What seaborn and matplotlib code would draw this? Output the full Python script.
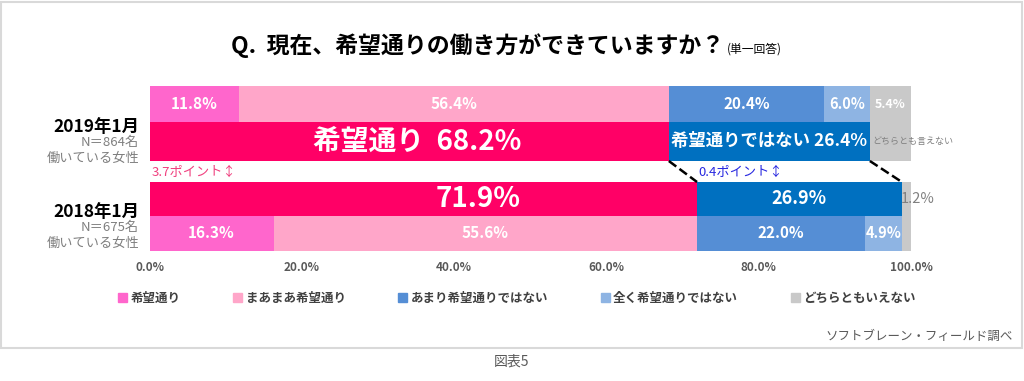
import numpy as np
import pandas as pd
import matplotlib
matplotlib.use("Agg")
import matplotlib.pyplot as plt
from matplotlib.patches import Patch, Rectangle
import seaborn as sns

# data
legend_labels = ["希望通り", "まあまあ希望通り", "あまり希望通りではない", "全く希望通りではない", "どちらともいえない"]
detail_2019 = [11.8, 56.4, 20.4, 6.0, 5.4]
detail_2018 = [16.3, 55.6, 22.0, 4.9, 1.2]
agg_labels = ["希望通り", "希望通りではない", "どちらとも言えない"]
agg_2019 = [68.2, 26.4, 5.4]
agg_2018 = [71.9, 26.9, 1.2]
diff_hope = "3.7ポイント↕"
diff_not = "0.4ポイント↕"
year_labels = ["2019年1月", "2018年1月"]
n_labels = ["N＝864名", "N＝675名"]
x_ticks = [0, 20, 40, 60, 80, 100]

detail_colors = ["#FF66CC", "#FFA6C9", "#558ED5", "#8EB4E3", "#C9C9C9"]
agg_colors = ["#FF0066", "#0070C0", "#C9C9C9"]

W, H = 1024, 381
sns.set_theme(style="white")
plt.rcParams["font.family"] = ["Noto Sans CJK JP", "DejaVu Sans"]

fig = plt.figure(figsize=(W / 100, H / 100), dpi=100)
# axes span the bars: x 149.5..911 px, y 86..251 px (from top)
ax = fig.add_axes([149.5 / W, 1 - 251 / H, (911 - 149.5) / W, 165 / H])


def fx(px):
    return px / W


def fy(py):
    return 1 - py / H


# rows: (center in px from axes top, height)
rows = [
    (18, 36, legend_labels, detail_2019, detail_colors),
    (55.5, 39, agg_labels, agg_2019, agg_colors),
    (113, 34, agg_labels, agg_2018, agg_colors),
    (147.5, 35, legend_labels, detail_2018, detail_colors),
]

for pos, h, cats, vals, cols in rows:
    df = pd.DataFrame({"cat": cats, "cum": np.cumsum(vals), "pos": pos})
    sns.barplot(data=df, x="cum", y="pos", hue="cat", hue_order=cats[::-1],
                palette=cols[::-1], orient="y", native_scale=True, dodge=False,
                width=h, legend=False, linewidth=0, errorbar=None, saturation=1,
                ax=ax)

ax.set_xlim(0, 100)
ax.set_ylim(165, 0)
ax.set_xlabel("")
ax.set_ylabel("")
ax.set_yticks([])
ax.set_xticks(x_ticks)
ax.set_xticklabels([f"{t:.1f}%" for t in x_ticks], fontsize=8.5,
                   fontweight="bold", color="#595959")
ax.tick_params(axis="x", length=0, pad=7)
for s in ax.spines.values():
    s.set_visible(False)

# segment labels, detail rows
def seg_labels(pos, vals, sizes):
    left = 0
    for v, sz in zip(vals, sizes):
        if sz:
            ax.text(left + v / 2, pos, f"{v:.1f}%", ha="center", va="center",
                    color="white", fontsize=sz, fontweight="bold")
        left += v

seg_labels(18, detail_2019, [11, 11, 11, 10.5, 9])
seg_labels(147.5, detail_2018, [11, 11, 11, 10.5, 0])

# aggregated rows
ax.text(48.8, 55.5, f"{agg_labels[0]}  {agg_2019[0]:.1f}%", ha="right", va="center",
        color="white", fontsize=20, fontweight="bold")
ax.text(agg_2019[0] + agg_2019[1] / 2, 55.5, f"{agg_labels[1]} {agg_2019[1]:.1f}%",
        ha="center", va="center", color="white", fontsize=12.5, fontweight="bold")
ax.text(agg_2019[0] + agg_2019[1] + 0.3, 55.5, agg_labels[2], ha="left", va="center",
        color="#808080", fontsize=6.5, clip_on=False)
ax.text(48.8, 113, f"{agg_2018[0]:.1f}%", ha="right", va="center",
        color="white", fontsize=20, fontweight="bold")
ax.text(agg_2018[0] + agg_2018[1] / 2, 113, f"{agg_2018[1]:.1f}%", ha="center",
        va="center", color="white", fontsize=13, fontweight="bold")
ax.text(agg_2018[0] + agg_2018[1] - 0.2, 113, f"{agg_2018[2]:.1f}%", ha="left",
        va="center", color="#808080", fontsize=10.5, clip_on=False)

# dashed connectors
y_top, y_bot = 55.5 + 39 / 2, 113 - 34 / 2
ax.plot([agg_2019[0], agg_2018[0]], [y_top, y_bot], ls="--", color="black", lw=1.8)
ax.plot([agg_2019[0] + agg_2019[1], agg_2018[0] + agg_2018[1]], [y_top, y_bot],
        ls="--", color="black", lw=1.8)

ax.text(0.3, 86, diff_hope, ha="left", va="center", color="#F0407F", fontsize=9.5)
ax.text(agg_2018[0] + 0.2, 86, diff_not, ha="left", va="center", color="#2828E0",
        fontsize=9.5)

# row labels
for i, (yr, n) in enumerate(zip(year_labels, n_labels)):
    base = [127, 212][i]
    fig.text(fx(139), fy(base), yr, ha="right", va="center", fontsize=12.5,
             fontweight="bold", color="black")
    fig.text(fx(139), fy(base + 15), n, ha="right", va="center", fontsize=9.5,
             color="#7F7F7F")
    fig.text(fx(139), fy(base + 31), "働いている女性", ha="right", va="center",
             fontsize=9.5, color="#7F7F7F")

# title
fig.text(fx(724), fy(46), "Q.  現在、希望通りの働き方ができていますか？", ha="right",
         va="center", fontsize=16.5, fontweight="bold", color="black")
fig.text(fx(727), fy(49), "(単一回答)", ha="left", va="center", fontsize=8.5,
         color="black")

# legend
handles = [Patch(color=c) for c in detail_colors]
fig.legend(handles, legend_labels, loc="center", bbox_to_anchor=(fx(517), fy(298)),
           ncol=5, frameon=False, handlelength=0.7, handleheight=0.7,
           handletextpad=0.3, columnspacing=4.2, labelcolor="#404040",
           prop={"size": 9, "weight": "bold"})

fig.text(fx(1013), fy(336), "ソフトブレーン・フィールド調べ", ha="right", va="center",
         fontsize=9, color="#595959")
fig.text(fx(512), fy(362), "図表5", ha="center", va="center", fontsize=10,
         color="#595959")

fig.add_artist(Rectangle((fx(1), fy(348)), 1021 / W, 346 / H, transform=fig.transFigure,
                         fill=False, ec="#D9D9D9", lw=1.5))

fig.savefig("out.png", dpi=100)
